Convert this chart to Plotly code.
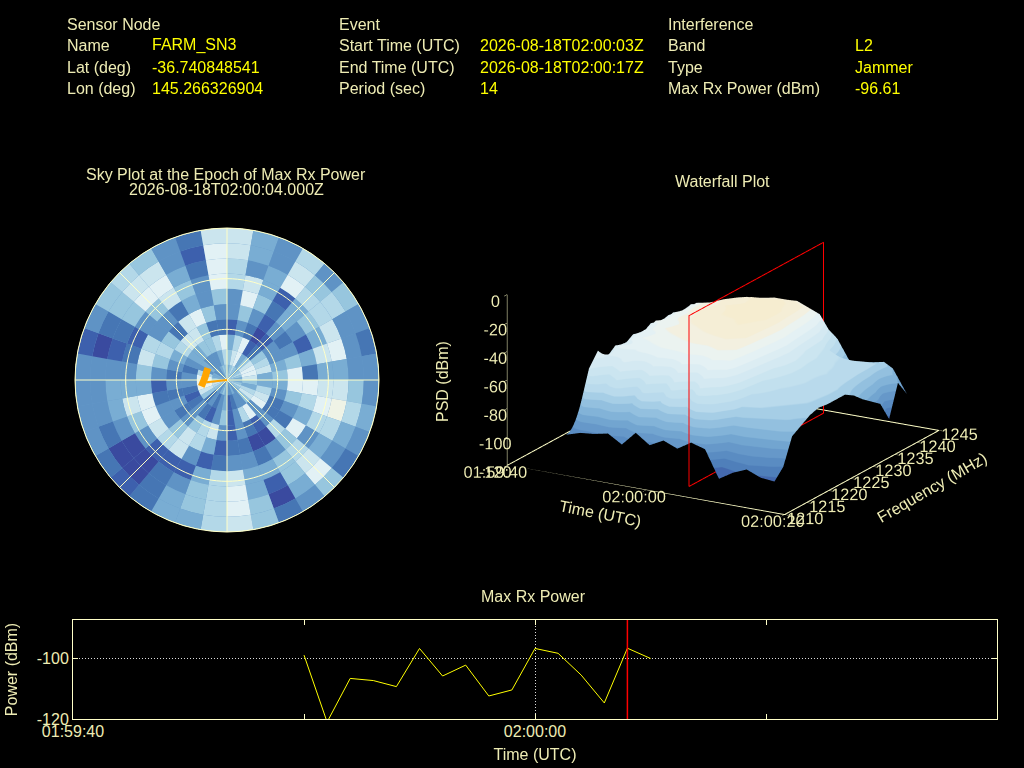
import plotly.graph_objects as go

INK = "#eeecb4"
VALUE = "#ffff00"
RULE = "#ffffc8"
FONT = "Liberation Sans"

# header block
header_titles = ["Sensor Node", "Event", "Interference"]
sensor_labels = ["Name", "Lat (deg)", "Lon (deg)"]
sensor_values = ["FARM_SN3", "-36.740848541", "145.266326904"]
event_labels = ["Start Time (UTC)", "End Time (UTC)", "Period (sec)"]
event_values = ["2026-08-18T02:00:03Z", "2026-08-18T02:00:17Z", "14"]
interf_labels = ["Band", "Type", "Max Rx Power (dBm)"]
interf_values = ["L2", "Jammer", "-96.61"]

# sky plot: sector centres (deg) and rings, inner to outer, colour level 0-9
sky_azimuth = [5, 15, 25, 35, 45, 55, 65, 75, 85, 95, 105, 115, 125, 135, 145, 155, 165, 175,
               185, 195, 205, 215, 225, 235, 245, 255, 265, 275, 285, 295, 305, 315, 325, 335, 345, 355]
sky_ring_inner = [0, 9, 18, 27, 36, 45, 54, 63, 72, 81]
sky_levels = [
    [4, 5, 6, 5, 4, 5, 6, 5, 4, 4, 5, 6, 5, 4, 3, 4, 3, 3, 4, 5, 4, 3, 4, 5, 6, 7, 6, 5, 4, 4, 3, 4, 3, 4, 5, 5],
    [5, 7, 8, 4, 5, 7, 8, 8, 7, 5, 4, 6, 7, 5, 3, 3, 2, 1, 4, 3, 2, 3, 2, 5, 7, 9, 9, 8, 6, 3, 4, 3, 3, 3, 4, 6],
    [4, 6, 8, 1, 2, 5, 6, 7, 4, 4, 6, 7, 8, 3, 8, 6, 3, 1, 5, 3, 1, 2, 3, 2, 1, 2, 3, 3, 2, 3, 4, 4, 5, 5, 6, 8],
    [1, 3, 2, 0, 1, 3, 3, 4, 5, 4, 3, 2, 2, 3, 1, 2, 3, 1, 3, 7, 6, 5, 3, 2, 3, 2, 3, 2, 3, 4, 6, 7, 7, 5, 2, 2],
    [3, 5, 3, 1, 3, 2, 3, 5, 8, 8, 5, 3, 2, 6, 0, 0, 2, 2, 1, 4, 6, 7, 5, 3, 3, 2, 1, 3, 5, 6, 5, 2, 7, 8, 5, 3],
    [3, 8, 5, 2, 4, 3, 1, 4, 2, 8, 6, 4, 8, 5, 3, 2, 3, 3, 2, 1, 3, 7, 6, 7, 8, 8, 4, 5, 7, 6, 3, 3, 2, 4, 3, 5],
    [6, 7, 4, 1, 4, 5, 4, 7, 4, 7, 8, 6, 3, 6, 5, 4, 4, 7, 6, 4, 1, 1, 1, 3, 5, 7, 4, 3, 2, 1, 3, 5, 7, 5, 3, 8],
    [6, 3, 4, 8, 6, 6, 7, 8, 4, 7, 9, 6, 4, 7, 5, 1, 4, 8, 6, 5, 3, 2, 0, 0, 3, 4, 4, 3, 1, 2, 5, 8, 8, 4, 2, 8],
    [7, 4, 3, 7, 5, 6, 3, 3, 3, 5, 6, 4, 3, 8, 4, 0, 5, 8, 6, 5, 4, 2, 0, 0, 2, 3, 3, 3, 0, 2, 5, 7, 7, 3, 1, 8],
    [7, 4, 3, 6, 3, 5, 3, 2, 3, 3, 4, 3, 2, 5, 3, 2, 5, 7, 6, 4, 4, 2, 1, 2, 3, 3, 3, 3, 1, 3, 5, 6, 5, 3, 2, 7],
]
sky_colors = [[0.0, "#3a4a9f"], [0.11, "#3d60ad"], [0.22, "#4575b4"], [0.33, "#5e92c5"], [0.44, "#78acd3"],
              [0.56, "#98c7de"], [0.67, "#b4d9e8"], [0.78, "#cbe5ee"], [0.89, "#e2f1f5"], [1.0, "#eff3e6"]]
sky_circles = [30, 60, 90]
sky_spokes = [0, 45, 90, 135, 180, 225, 270, 315]
circle_theta = list(range(0, 361, 3))

# jammer direction track on the sky plot
jam_az = [256, 262, 270, 280, 291, 302]
jam_el_r = [15.7, 14.6, 13.6, 13.0, 13.0, 13.3]
jam_line_az = [264, 264]
jam_line_r = [0, 12.3]

# waterfall
psd_times = [-14, -12, -10, -8, -6, -4, -2, 0, 2, 4, 6, 8, 10, 12, 14, 16]
psd_freqs = [1214, 1216, 1218, 1220, 1222, 1224, 1226, 1228, 1230, 1232, 1234, 1236, 1238, 1240, 1242, 1244]
psd_dbm = [
    [-100, -98, -101, -97, -99, -96, -100, -98, -99, -97, -100, -98, -101, -99, -97, -100],
    [-97, -55, -46, -54, -49, -52, -48, -51, -47, -50, -48, -52, -50, -56, -62, -82],
    [-96, -70, -56, -44, -47, -42, -44, -40, -43, -41, -44, -42, -46, -50, -60, -84],
    [-94, -60, -48, -46, -40, -42, -37, -39, -36, -38, -36, -40, -42, -48, -58, -82],
    [-100, -78, -60, -42, -38, -35, -37, -33, -35, -32, -34, -37, -40, -46, -56, -80],
    [-90, -62, -50, -40, -36, -32, -31, -30, -29, -31, -30, -33, -36, -44, -56, -82],
    [-97, -74, -58, -38, -34, -31, -28, -29, -26, -28, -27, -30, -34, -43, -54, -80],
    [-92, -58, -46, -37, -32, -29, -26, -25, -24, -26, -25, -29, -33, -42, -55, -81],
    [-96, -72, -54, -38, -31, -27, -26, -23, -24, -22, -25, -27, -32, -40, -52, -78],
    [-90, -55, -44, -35, -30, -26, -24, -23, -21, -23, -24, -27, -31, -40, -53, -76],
    [-93, -68, -52, -38, -33, -29, -27, -25, -24, -26, -27, -30, -35, -42, -56, -66],
    [-112, -92, -74, -68, -64, -60, -56, -52, -50, -53, -56, -58, -60, -72, -76, -82],
    [-106, -90, -76, -70, -68, -66, -64, -62, -62, -63, -62, -64, -65, -71, -75, -84],
    [-102, -92, -78, -72, -70, -68, -67, -66, -66, -65, -66, -67, -67, -70, -74, -82],
    [-106, -94, -80, -74, -72, -70, -69, -68, -68, -68, -68, -69, -69, -70, -72, -80],
    [-107, -100, -82, -78, -74, -72, -73, -73, -73, -77, -83, -88, -93, -107, -85, -96],
]
# discrete palette bands, one colour per band, band edges in dBm
psd_band_edges = [-120, -105, -100, -95, -90, -85, -80, -75, -70, -65, -60, -55, -50, -45, -40, -35, -30, -25, 0]
psd_band_colors = ["#4469ae", "#4f7fba", "#5a8cc2", "#6698c9", "#72a5d0", "#82b3d8", "#93c0df", "#a6cee6", "#b9daec",
                   "#c2e0ee", "#cbe5f0", "#d4e9f2", "#dcedf3", "#e4f1f4", "#ebf3f0", "#f3f0e0", "#f5eed6", "#f6edd0"]
floor_times = [-20, 20, 20, -20, -20]
floor_freqs = [1210, 1210, 1245, 1245, 1210]
floor_dbm = [-120, -120, -120, -120, -120]
marker_times = [4, 4, 4, 4, 4]
marker_freqs = [1213.5, 1244, 1244, 1213.5, 1213.5]
marker_dbm = [-120, -120, 0, 0, -120]

# max rx power
power_times = ["2026-08-18T01:59:50", "2026-08-18T01:59:51", "2026-08-18T01:59:52", "2026-08-18T01:59:53",
               "2026-08-18T01:59:54", "2026-08-18T01:59:55", "2026-08-18T01:59:56", "2026-08-18T01:59:57",
               "2026-08-18T01:59:58", "2026-08-18T01:59:59", "2026-08-18T02:00:00", "2026-08-18T02:00:01",
               "2026-08-18T02:00:02", "2026-08-18T02:00:03", "2026-08-18T02:00:04", "2026-08-18T02:00:05"]
power_dbm = [-98.9, -121, -106.6, -107.3, -109.3, -96.7, -105.8, -102.2, -112.4, -110.4,
             -96.7, -98.3, -105.5, -114.7, -96.61, -100.0]
peak_time = "2026-08-18T02:00:04"


def px_x(px):
    return px / 1024


def px_y(py):
    return 1 - py / 768


def label(px, py, text, color=INK, anchor="left", angle=0):
    return dict(x=px_x(px), y=px_y(py), xref="paper", yref="paper", text=text, showarrow=False,
                xanchor=anchor, yanchor="middle", textangle=angle, font=dict(family=FONT, size=16, color=color))


psd_colorscale = []
for lo, hi, col in zip(psd_band_edges[:-1], psd_band_edges[1:], psd_band_colors):
    psd_colorscale.append([(lo + 120) / 120, col])
    psd_colorscale.append([(hi + 120) / 120, col])

fig = go.Figure()

# sky plot
for ring, levels in zip(sky_ring_inner, sky_levels):
    fig.add_trace(go.Barpolar(theta=sky_azimuth, r=[9] * len(sky_azimuth), base=ring, width=10,
        marker=dict(color=levels, colorscale=sky_colors, cmin=0, cmax=9, line=dict(width=0)),
        showlegend=False, subplot="polar"))
for r in sky_circles:
    fig.add_trace(go.Scatterpolar(theta=circle_theta, r=[r] * len(circle_theta), mode="lines",
        line=dict(color=RULE, width=1), showlegend=False, subplot="polar"))
for az in sky_spokes:
    fig.add_trace(go.Scatterpolar(theta=[az, az], r=[0, 90], mode="lines",
        line=dict(color=RULE, width=1), showlegend=False, subplot="polar"))
fig.add_trace(go.Scatterpolar(theta=jam_line_az, r=jam_line_r, mode="lines",
    line=dict(color="#ffa500", width=2), showlegend=False, subplot="polar"))
fig.add_trace(go.Scatterpolar(theta=jam_az, r=jam_el_r, mode="lines",
    line=dict(color="#ffa500", width=7), showlegend=False, subplot="polar"))

# waterfall
fig.add_trace(go.Surface(x=psd_times, y=psd_freqs, z=[list(r) for r in zip(*psd_dbm)],
    colorscale=psd_colorscale, cmin=-120, cmax=0, showscale=False,
    lighting=dict(ambient=1, diffuse=0, specular=0, roughness=1, fresnel=0), scene="scene"))
fig.add_trace(go.Scatter3d(x=floor_times, y=floor_freqs, z=floor_dbm, mode="lines",
    line=dict(color=RULE, width=2), showlegend=False, scene="scene"))
fig.add_trace(go.Scatter3d(x=marker_times, y=marker_freqs, z=marker_dbm, mode="lines",
    line=dict(color="#ff0000", width=2), showlegend=False, scene="scene"))

# max rx power
fig.add_trace(go.Scatter(x=power_times, y=power_dbm, mode="lines", line=dict(color=VALUE, width=1),
    showlegend=False, xaxis="x", yaxis="y"))
fig.add_trace(go.Scatter(x=[peak_time, peak_time], y=[-120, -87.3], mode="lines",
    line=dict(color="#ff0000", width=1.5), showlegend=False, xaxis="x", yaxis="y"))

scene_axis = dict(showgrid=False, zeroline=False, showbackground=False, showspikes=False,
    ticks="outside", tickcolor=RULE, ticklen=6, showline=False, tickangle=0, title=dict(text=""),
    tickfont=dict(family=FONT, size=14, color=INK))

annotations = []
for px, title, labels, vx, values in [
        (65, header_titles[0], sensor_labels, 150, sensor_values),
        (337, header_titles[1], event_labels, 478, event_values),
        (666, header_titles[2], interf_labels, 853, interf_values)]:
    annotations.append(label(px, 24, title))
    for py, lab, val in zip([45, 67, 89], labels, values):
        annotations.append(label(px, py, lab))
        annotations.append(label(vx, py, val, color=VALUE))
annotations += [
    label(226, 174, "Sky Plot at the Epoch of Max Rx Power", anchor="center"),
    label(226, 189, "2026-08-18T02:00:04.000Z", anchor="center"),
    label(722, 181, "Waterfall Plot", anchor="center"),
    label(533, 596, "Max Rx Power", anchor="center"),
    label(443, 382, "PSD (dBm)", anchor="center", angle=-90),
    label(600, 513, "Time (UTC)", anchor="center", angle=11),
    label(932, 487, "Frequency (MHz)", anchor="center", angle=-30),
]

axis_font = dict(family=FONT, size=16, color=INK)
fig.update_layout(
    width=1024, height=768, margin=dict(l=0, r=0, t=0, b=0), autosize=False,
    paper_bgcolor="#000000", plot_bgcolor="#000000", showlegend=False,
    font=dict(family=FONT, size=16, color=INK), annotations=annotations,
    polar=dict(domain=dict(x=[px_x(75), px_x(379)], y=[px_y(532), px_y(228)]), bgcolor="#6a9ccb",
        barmode="overlay",
        radialaxis=dict(range=[0, 90], showticklabels=False, ticks="", showline=False, showgrid=False),
        angularaxis=dict(direction="clockwise", rotation=90, showticklabels=False, ticks="",
            showgrid=False, linecolor=RULE, linewidth=1)),
    scene=dict(domain=dict(x=[px_x(422), px_x(1024)], y=[px_y(545), px_y(180)]),
        bgcolor="#000000", aspectmode="manual", aspectratio=dict(x=1.75, y=1.708, z=0.985),
        camera=dict(projection=dict(type="orthographic"), up=dict(x=0, y=0, z=1),
            center=dict(x=0, y=0, z=0), eye=dict(x=0.53, y=-0.93, z=0.35)),
        xaxis=dict(scene_axis, range=[-20, 20], tickvals=[-20, 0, 20], ticktext=["01:59:40", "02:00:00", "02:00:20"]),
        yaxis=dict(scene_axis, range=[1210, 1245], tickvals=[1210, 1215, 1220, 1225, 1230, 1235, 1240, 1245]),
        zaxis=dict(scene_axis, range=[-120, 0], tickvals=[-120, -100, -80, -60, -40, -20, 0],
            ticktext=["-120", "-100", "-80", "-60", "-40", "-20", "0"], showline=True, linecolor=RULE)),
    xaxis=dict(domain=[px_x(73), px_x(997)], type="date", automargin=False,
        range=["2026-08-18T01:59:40", "2026-08-18T02:00:20"], tick0="2026-08-18T01:59:40", dtick=20000,
        tickformat="%H:%M:%S", ticks="inside", ticklen=5, tickcolor=RULE, showline=True, mirror="ticks",
        linecolor=RULE, showgrid=True, gridcolor="#dddddd", griddash="1px,2px", gridwidth=1, zeroline=False,
        tickfont=axis_font, ticklabelstandoff=-2,
        minor=dict(dtick=10000, ticks="inside", ticklen=5, tickcolor=RULE, showgrid=False),
        title=dict(text="Time (UTC)", standoff=9, font=axis_font)),
    yaxis=dict(domain=[px_y(719), px_y(620)], range=[-120, -87.3], tickvals=[-120, -100], automargin=False,
        ticktext=["-120", "-100"], ticks="inside", ticklen=5, tickcolor=RULE, showline=True, mirror="ticks",
        linecolor=RULE, showgrid=True, gridcolor="#dddddd", griddash="1px,2px", gridwidth=1, zeroline=False,
        tickfont=axis_font, title=dict(text="Power (dBm)", standoff=15, font=axis_font)),
)

fig.write_html("out.html", config={"displayModeBar": False},
               post_script="document.body.style.margin='0';document.body.style.background='#000';")
